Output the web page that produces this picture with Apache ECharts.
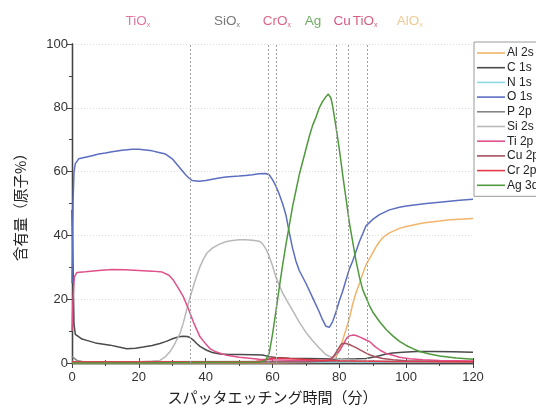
<!DOCTYPE html>
<html>
<head>
<meta charset="utf-8">
<script src="https://cdn.jsdelivr.net/npm/echarts@6/dist/echarts.min.js"></script>
<style>html,body{margin:0;padding:0;background:#fff;}#c{width:536px;height:412px;}</style>
</head>
<body>
<div id="c"></div>
<script>
// ---- data (time in minutes, content in atomic %) ----
var xTicks = [0, 20, 40, 60, 80, 100, 120];
var yTicks = [0, 20, 40, 60, 80, 100];
var seriesNames = ['Al 2s','C 1s','N 1s','O 1s','P 2p','Si 2s','Ti 2p','Cu 2p','Cr 2p','Ag 3d'];

var al2s = [[0,0],[60,0],[76,0.2],[78,0.6],[79,1.8],[80,4],[81,7.2],[82,10.5],[83,14],[84,18.5],[85,22],[86.2,25.5],[87,28],[88,30.8],[89.2,33],[90,34.5],[91,36.5],[92,38],[93.2,39.5],[95,40.8],[98,42.2],[100,42.8],[105,43.9],[110,44.5],[113,44.9],[116,45.1],[120,45.3]];
var c1s = [[0,48],[0.3,30],[0.6,12],[1,9],[1.4,8.7],[3,7.5],[4.4,7.1],[7,6.3],[11.4,5.6],[14,5],[16.4,4.5],[19,4.6],[21.3,5],[24,5.5],[26.3,6.1],[28,6.7],[30.3,7.7],[32,8.2],[33.3,8.4],[34.5,8.3],[35.3,8],[36.3,7.2],[37.3,6.1],[38.3,5.2],[40.3,4],[42,3.3],[44.3,2.8],[47,2.7],[50.3,2.7],[54,2.6],[57,2.5],[59,2],[61,1.7],[65,1.5],[70,1.4],[75,1.3],[80,1.2],[85,1.3],[88,1.4],[90,1.8],[92,2.3],[94,2.8],[96,3.1],[99,3.4],[103,3.6],[108,3.6],[114,3.5],[120,3.4]];
var n1s = [[0,0.3],[10,0.2],[60,0.2],[120,0.2]];
var o1s = [[0,25],[0.3,50],[0.6,60],[1,62.5],[2,64],[4,64.5],[6,65],[8,65.5],[10,65.8],[12,66.2],[15,66.7],[18,67],[20,67],[22,66.8],[24,66.5],[26,66],[28,65.5],[30,64],[32,61.5],[34,59],[35,58],[36,57.2],[38,57],[40,57.2],[42,57.6],[44,58],[46,58.3],[48,58.5],[50,58.6],[52,58.8],[54,59],[56,59.3],[58,59.4],[59,59],[60,57.5],[61,55.5],[62,53],[63,50],[64,46.5],[65,41],[66,36],[67,32],[68,29],[70,25],[72,20.5],[74,16],[75,13.5],[76,11.5],[77,11.2],[78,13],[79,16],[80,19.5],[81,22.5],[82,26],[83,29.5],[84,32],[85,35],[86,38],[87,40.5],[88,43],[89,44],[90,45],[92,46.5],[95,48],[98,48.8],[100,49.2],[103,49.6],[106,50],[110,50.4],[113,50.7],[116,51],[120,51.3]];
var p2p = [[0,2],[0.5,1.5],[1.5,0.8],[3,0.5],[20,0.4],[60,0.5],[80,0.5],[120,0.5]];
var si2s = [[0,0.5],[10,0.3],[20,0.4],[24,0.6],[26.3,0.8],[28,2],[29.3,3.5],[30.5,5.5],[32.3,9.2],[33.3,12.5],[34.3,16.6],[35.3,20.5],[36.3,24],[37.3,27.3],[38.3,30.2],[39.3,32.5],[40.3,34.4],[42,36],[44,37.2],[46,38],[48,38.4],[50,38.6],[52,38.6],[54,38.5],[56,38.2],[57,37.4],[58,35.8],[59,33.5],[60,30.5],[61,27],[62,24.5],[63,22],[65,18.3],[66,16.5],[68,12.8],[70,9.6],[71,8.3],[72,7],[74,4.7],[76,2.6],[78,1.6],[80,1.2],[85,0.8],[90,0.6],[100,0.5],[120,0.4]];
var ti2p = [[0,10],[0.3,20],[0.7,27],[1.5,28.4],[4,28.6],[8,29],[12,29.3],[16,29.2],[20,29],[24,28.8],[27,28.5],[29,27.5],[30.3,26],[31.5,24],[33.3,20.8],[34.8,17.1],[36.3,12.9],[38.3,8.2],[40,6],[41.3,4.5],[43,3.5],[46.3,2.4],[50,1.8],[52.3,1.6],[56,1.2],[60,1],[65,0.9],[70,0.8],[75,0.8],[77,1],[78,1.8],[79,2.7],[80.2,4],[81,5.5],[82.2,7.8],[83,8.5],[84.2,8.8],[85,8.6],[86.2,8.1],[88,7.2],[89.2,6.6],[90.5,5.3],[92.2,4],[94,3],[96,2.4],[98,1.8],[101,1.3],[105,1],[110,0.8],[120,0.6]];
var cu2p = [[0,0.3],[40,0.3],[70,0.4],[76,0.6],[77.2,1],[78.2,2],[79.2,3.6],[80,5],[80.7,6],[81.7,6.2],[83,5.8],[84,5.3],[85,4.8],[86.2,4.1],[88,3.1],[89.2,2.5],[91,1.9],[93,1.4],[96,1],[100,0.7],[110,0.5],[120,0.4]];
var cr2p = [[0,0.3],[20,0.3],[40,0.4],[55,0.5],[57,0.7],[58,1],[59,1.4],[60,1.6],[63,1.5],[66,1.3],[70,1.1],[74,0.9],[77,0.8],[80,0.7],[85,0.6],[95,0.5],[120,0.4]];
var ag3d = [[0,0],[20,0],[40,0.2],[56,0.3],[57,0.5],[58,1],[59,3],[60,9],[61,16],[62,23.5],[63,30.5],[64,37],[65,43],[66,49],[67,54],[68,59],[69,63],[70,67],[71,71],[72,74.5],[73,77],[74,80],[75,82],[76,83.5],[76.7,84.3],[77.5,83],[78,80.5],[79,74],[80,67],[81,59],[82,51.5],[83,44],[84,38],[85,32],[86,27],[87,23],[88,20.5],[89,18],[90,16],[92,13],[94,10.5],[96,8.5],[98,6.8],[100,5.5],[102,4.5],[104,3.6],[107,2.8],[110,2.2],[115,1.6],[120,1.2]];

var boundaries = [35.3, 58.7, 61, 79.2, 82.7, 88.4];
var layerX = [19.7, 46.4, 61.3, 72.1, 80.8, 87.7, 101.1];
var layerMain = ['TiO', 'SiO', 'CrO', 'Ag', 'Cu', 'TiO', 'AlO'];
var layerSub = ['x', 'x', 'x', '', '', 'x', 'x'];
var layerLabelY = 107.2;

var colors = ['#f2b46a','#4a4a4a','#8fd8e6','#5b6ec2','#858585','#b8b8b8','#e0508a','#a8505e','#e23a4a','#4e9a3c'];
var layerColors = ['#d9548a','#555555','#d2406a','#4a9a3c','#c8306c','#c8385e','#ebbd7a'];
var allData = [al2s, c1s, n1s, o1s, p2p, si2s, ti2p, cu2p, cr2p, ag3d];

var FONT = '"Liberation Sans", Arial, sans-serif';
var JP = '"Noto Sans CJK JP", "Liberation Sans", sans-serif';

var series = seriesNames.map(function (n, i) {
  return {
    name: n, type: 'line', data: allData[i], symbol: 'none', smooth: false,
    lineStyle: { color: colors[i], width: 1.5 }, itemStyle: { color: colors[i] },
    z: 3
  };
});
series.push({
  type: 'line', data: [], symbol: 'none', silent: true,
  markLine: {
    symbol: 'none', silent: true, animation: false,
    label: { show: false },
    lineStyle: { type: [2, 2], color: '#a0a0a0', width: 1 },
    data: boundaries.map(function (b) { return { xAxis: b }; })
  }
});
series.push({
  type: 'scatter', symbolSize: 0, clip: false, silent: true,
  data: layerX.map(function (x, i) {
    return {
      value: [x, layerLabelY],
      label: {
        show: true, position: 'inside',
        formatter: '{a|' + layerMain[i] + '}' + (layerSub[i] ? '{s|' + layerSub[i] + '}' : ''),
        rich: {
          a: { fontSize: 13.5, color: layerColors[i], fontFamily: FONT },
          s: { fontSize: 7, color: layerColors[i], fontFamily: FONT, padding: [9, 0, 0, 0] }
        }
      }
    };
  })
});

var noSplit = { show: false };
var chart = echarts.init(document.getElementById('c'), null, { renderer: 'canvas' });
chart.setOption({
  animation: false,
  backgroundColor: '#fff',
  grid: { left: 72, right: 63, top: 44, bottom: 49, containLabel: false },
  legend: {
    data: seriesNames, orient: 'vertical', left: 474, top: 42,
    padding: [5, 6, 5, 3], itemGap: 2.7, itemWidth: 28, itemHeight: 1.6, icon: 'rect',
    borderColor: '#9a9a9a', borderWidth: 1, backgroundColor: '#fff',
    textStyle: { fontSize: 12, color: '#222', fontFamily: FONT, lineHeight: 12, padding: [0, 0, 0, -3] }
  },
  xAxis: [{
    type: 'value', min: 0, max: 120, interval: 20,
    name: 'スパッタエッチング時間（分）', nameLocation: 'middle', nameGap: 27,
    nameTextStyle: { fontSize: 15, color: '#222', fontFamily: JP },
    axisLine: { lineStyle: { color: '#444', width: 1.3 } },
    axisTick: { inside: true, length: 5, lineStyle: { color: '#444' } },
    minorTick: { show: true, splitNumber: 2, length: 3, lineStyle: { color: '#444' } },
    axisLabel: { fontSize: 13, color: '#333', fontFamily: FONT, margin: 8,
      formatter: function (v) { return xTicks.indexOf(v) >= 0 ? String(v) : ''; } },
    splitLine: noSplit, minorSplitLine: noSplit
  }, {
    type: 'value', min: 0, max: 120, interval: 20, position: 'top',
    axisLine: { show: true, lineStyle: { color: '#444', width: 1.3 } },
    axisTick: { show: true, inside: true, length: 5, lineStyle: { color: '#444' } },
    minorTick: { show: true, splitNumber: 2, length: 3, lineStyle: { color: '#444' } },
    axisLabel: { show: false }, splitLine: noSplit, minorSplitLine: noSplit
  }],
  yAxis: [{
    type: 'value', min: 0, max: 100, interval: 20,
    name: '含有量（原子%）', nameLocation: 'middle', nameGap: 44, nameRotate: 90,
    nameTextStyle: { fontSize: 14.5, color: '#222', fontFamily: JP },
    axisLine: { show: true, lineStyle: { color: '#444', width: 1.3 } },
    axisTick: { show: true, inside: false, length: 5, lineStyle: { color: '#444' } },
    minorTick: { show: true, splitNumber: 2, length: 3, lineStyle: { color: '#444' } },
    axisLabel: { fontSize: 13, color: '#333', fontFamily: FONT, margin: 4,
      formatter: function (v) { return yTicks.indexOf(v) >= 0 ? String(v) : ''; } },
    splitLine: { show: true, lineStyle: { color: '#dcdcdc', type: [1, 2], width: 1 } },
    minorSplitLine: noSplit
  }, {
    type: 'value', min: 0, max: 100, interval: 20, position: 'right',
    axisLine: { show: true, lineStyle: { color: '#444', width: 1.3 } },
    axisTick: { show: true, inside: true, length: 5, lineStyle: { color: '#444' } },
    minorTick: { show: true, splitNumber: 2, length: 3, lineStyle: { color: '#444' } },
    axisLabel: { show: false }, splitLine: noSplit, minorSplitLine: noSplit
  }],
  series: series
});
</script>
</body>
</html>
